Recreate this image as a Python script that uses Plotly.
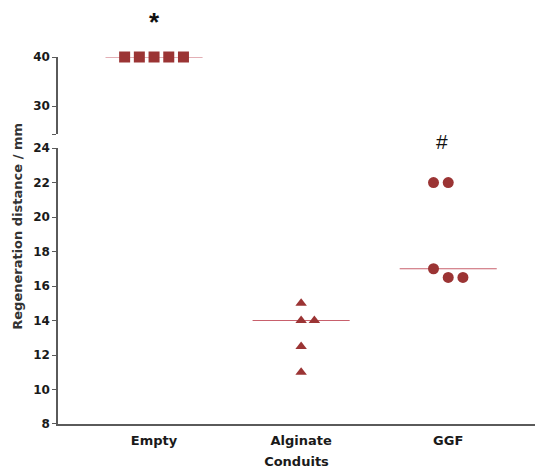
import numpy as np
import plotly.graph_objects as go

# Regeneration distance (mm) per conduit type
categories = ["Empty", "Alginate", "GGF"]
empty_vals = [40, 40, 40, 40, 40]
alginate_vals = [15, 14, 14, 12.5, 11]
ggf_vals = [22, 22, 17, 16.5, 16.5]
lower_ticks = [8, 10, 12, 14, 16, 18, 20, 22, 24]
upper_ticks = [30, 40]

# horizontal scatter offsets so that coincident points sit side by side
empty_jitter = [-0.2, -0.1, 0.0, 0.1, 0.2]
alginate_jitter = [0.0, 0.0, 0.09, 0.0, 0.0]
ggf_jitter = [-0.1, 0.0, -0.1, 0.0, 0.1]

MARK = "#9b3434"
MEDIAN = "#c8606c"
AXIS = "#5a5a5a"
FAMILY = "DejaVu Sans, Liberation Sans, Arial, sans-serif"
TICK_FONT = dict(family=FAMILY, size=12, color="#1a1a1a", weight="bold")
LABEL_FONT = dict(family=FAMILY, size=13, color="#1a1a1a", weight="bold")
TITLE_FONT = dict(family=FAMILY, size=13, color="#333333", weight="bold")

fig = go.Figure()

def add_group(idx, vals, jitter, symbol, size, yaxis):
    xs = [idx + j for j in jitter]
    med = float(np.median(vals))
    fig.add_trace(go.Scatter(x=[idx - 0.33, idx + 0.33], y=[med, med], mode="lines",
                             line=dict(color=MEDIAN, width=1), yaxis=yaxis,
                             showlegend=False, hoverinfo="skip", cliponaxis=False))
    fig.add_trace(go.Scatter(x=xs, y=vals, mode="markers", yaxis=yaxis,
                             marker=dict(symbol=symbol, size=size, color=MARK,
                                         line=dict(width=0)),
                             showlegend=False, cliponaxis=False))

add_group(0, empty_vals, empty_jitter, "square", 11, "y2")
add_group(1, alginate_vals, alginate_jitter, "triangle-up", 10, "y")
add_group(2, ggf_vals, ggf_jitter, "circle", 11, "y")

axis_common = dict(showgrid=False, zeroline=False, showline=True, linecolor=AXIS, linewidth=1.5,
                   ticks="outside", ticklen=4, tickcolor=AXIS, tickfont=TICK_FONT)

upper_lo = 24.3

fig.update_layout(
    width=535, height=470,
    margin=dict(l=58, r=0, t=57, b=46),
    paper_bgcolor="white", plot_bgcolor="white",
    xaxis=dict(range=[-0.653, 2.59], tickvals=[0, 1, 2], ticktext=categories,
               showgrid=False, zeroline=False, showline=True, linecolor=AXIS, linewidth=1.5,
               ticks="", tickfont=LABEL_FONT, anchor="y", ticklabelstandoff=4,
               title=dict(text="Conduits", font=LABEL_FONT, standoff=10)),
    yaxis=dict(domain=[0, 0.752], range=[8, 24], tickvals=lower_ticks, **axis_common),
    yaxis2=dict(domain=[0.79, 1], range=[upper_lo, 40], anchor="x",
                tickvals=[upper_lo] + upper_ticks, ticktext=[""] + [str(t) for t in upper_ticks],
                **axis_common),
    annotations=[
        dict(text="<b>*</b>", x=0, y=1.096, xref="x", yref="paper", showarrow=False,
             xanchor="center", yanchor="middle",
             font=dict(family="Liberation Sans, Arial, sans-serif", size=26, color="#111111")),
        dict(text="#", x=1.96, y=0.77, xref="x", yref="paper", showarrow=False,
             xanchor="center", yanchor="middle",
             font=dict(family="Liberation Sans, Arial, sans-serif", size=21, color="#111111")),
        dict(text="Regeneration distance / mm", x=-0.084, y=0.54, xref="paper", yref="paper",
             textangle=-90, showarrow=False, xanchor="center", yanchor="middle",
             font=TITLE_FONT),
    ],
)

fig.write_html("out.html")
